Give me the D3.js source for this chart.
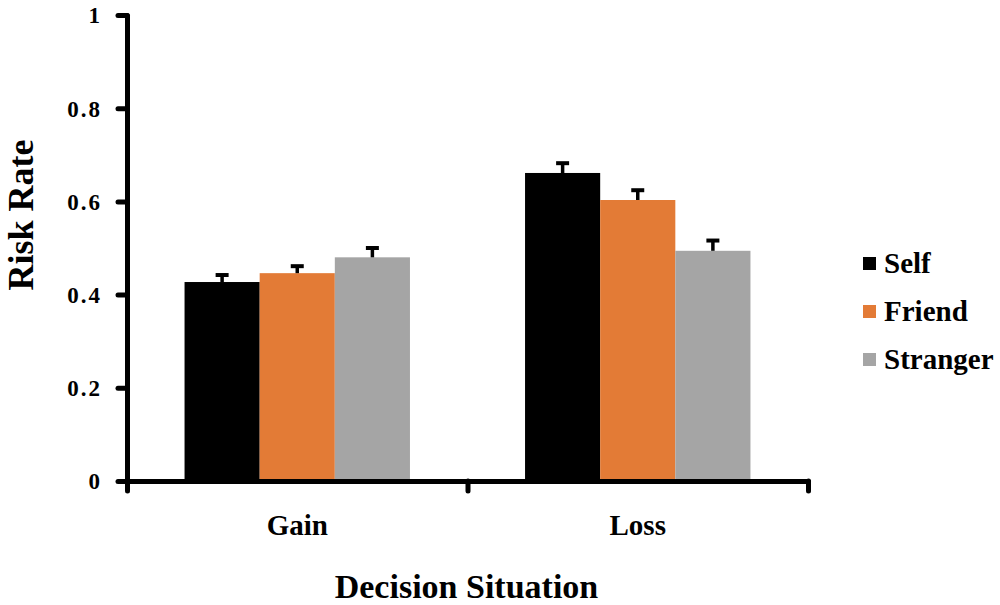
<!DOCTYPE html>
<html lang="en">
<head>
  <meta charset="UTF-8">
  <title>Risk Rate by Decision Situation</title>
  <script src="https://d3js.org/d3.v7.min.js"></script>
  <style>
    body { margin: 0; background: #fff; }
    svg { display: block; }
    text { font-family: "Liberation Serif", "Times New Roman", serif; font-weight: bold; fill: #000; }
  </style>
</head>
<body>
  <svg id="chart" width="1000" height="605"></svg>
  <script>
    // Data.
    const situations = ["Gain", "Loss"];
    const targets = ["Self", "Friend", "Stranger"];
    const colors = ["#000000", "#e37b36", "#a5a5a5"];
    const riskRate = {
      Gain: [0.427, 0.446, 0.480],
      Loss: [0.661, 0.603, 0.494]
    };
    const riskErr = {
      Gain: [0.015, 0.015, 0.020],
      Loss: [0.021, 0.021, 0.022]
    };
    const yTicks = [0, 0.2, 0.4, 0.6, 0.8, 1];
    const yTickLabels = ["0", "0.2", "0.4", "0.6", "0.8", "1"];

    const svg = d3.select("#chart");
    const plotLeft = 127, plotRight = 808, plotTop = 15, plotBottom = 481;

    // Scales
    const x0 = d3.scaleBand().domain(situations).range([plotLeft, plotRight])
      .paddingInner(0.338).paddingOuter(0.169);
    const x1 = d3.scaleBand().domain(targets).range([0, x0.bandwidth()]);
    const xEdge = d3.scaleLinear().domain([0, situations.length]).range([plotLeft, plotRight]);
    const y = d3.scaleLinear().domain([0, 1]).range([plotBottom, plotTop]);
    const color = d3.scaleOrdinal().domain(targets).range(colors);

    // Bars
    const rows = situations.flatMap(s => targets.map((t, i) => ({
      s, t, v: riskRate[s][i], e: riskErr[s][i]
    })));

    svg.append("g").selectAll("rect").data(rows).join("rect")
      .attr("x", d => x0(d.s) + x1(d.t))
      .attr("y", d => y(d.v))
      .attr("width", x1.bandwidth())
      .attr("height", d => y(0) - y(d.v))
      .attr("fill", d => color(d.t));

    // Error bars (upper only)
    const cx = d => x0(d.s) + x1(d.t) + x1.bandwidth() / 2;
    const eb = svg.append("g").attr("stroke", "#000");
    eb.selectAll("line.stem").data(rows).join("line")
      .attr("class", "stem")
      .attr("x1", cx).attr("x2", cx)
      .attr("y1", d => y(d.v))
      .attr("y2", d => y(d.v + d.e))
      .attr("stroke-width", 3.5);
    eb.selectAll("line.cap").data(rows).join("line")
      .attr("class", "cap")
      .attr("x1", d => cx(d) - 6.5)
      .attr("x2", d => cx(d) + 6.5)
      .attr("y1", d => y(d.v + d.e))
      .attr("y2", d => y(d.v + d.e))
      .attr("stroke-width", 4);

    // Y axis
    const yAxis = svg.append("g")
      .attr("transform", `translate(${plotLeft},0)`)
      .call(d3.axisLeft(y).tickValues(yTicks)
        .tickFormat((d, i) => yTickLabels[i]).tickSize(9).tickSizeOuter(0));
    yAxis.attr("font-family", null).attr("font-size", null);
    yAxis.select(".domain").attr("stroke-width", 5).attr("stroke-linecap", "round");
    yAxis.selectAll(".tick line").attr("stroke-width", 5).attr("stroke-linecap", "round");
    yAxis.selectAll(".tick text")
      .attr("font-size", 23)
      .attr("letter-spacing", 2)
      .attr("x", -25).attr("dy", "0.34em");

    // X axis: line with ticks at band edges
    const xAxis = svg.append("g")
      .attr("transform", `translate(0,${plotBottom})`)
      .call(d3.axisBottom(xEdge).tickValues(d3.range(situations.length + 1))
        .tickFormat("").tickSize(10).tickSizeOuter(0));
    xAxis.select(".domain").attr("stroke-width", 5).attr("stroke-linecap", "round");
    xAxis.selectAll(".tick line").attr("stroke-width", 5).attr("stroke-linecap", "round");

    // Category labels
    svg.append("g").selectAll("text").data(situations).join("text")
      .attr("x", d => x0(d) + x0.bandwidth() / 2)
      .attr("y", 535)
      .attr("text-anchor", "middle")
      .attr("font-size", 29)
      .text(d => d);

    // Axis titles
    svg.append("text")
      .attr("x", (plotLeft + plotRight) / 2 - 1)
      .attr("y", 598)
      .attr("text-anchor", "middle")
      .attr("font-size", 34)
      .text("Decision Situation");

    svg.append("text")
      .attr("transform", "translate(33,215) rotate(-90)")
      .attr("text-anchor", "middle")
      .attr("font-size", 36)
      .text("Risk Rate");

    // Legend
    const legend = svg.append("g").selectAll("g").data(targets).join("g")
      .attr("transform", (d, i) => `translate(863,${273 + i * 48})`);
    legend.append("rect")
      .attr("x", 0).attr("y", -16).attr("width", 13).attr("height", 13)
      .attr("fill", d => color(d));
    legend.append("text")
      .attr("x", 21).attr("y", 0)
      .attr("font-size", 29)
      .text(d => d);
  </script>
</body>
</html>
